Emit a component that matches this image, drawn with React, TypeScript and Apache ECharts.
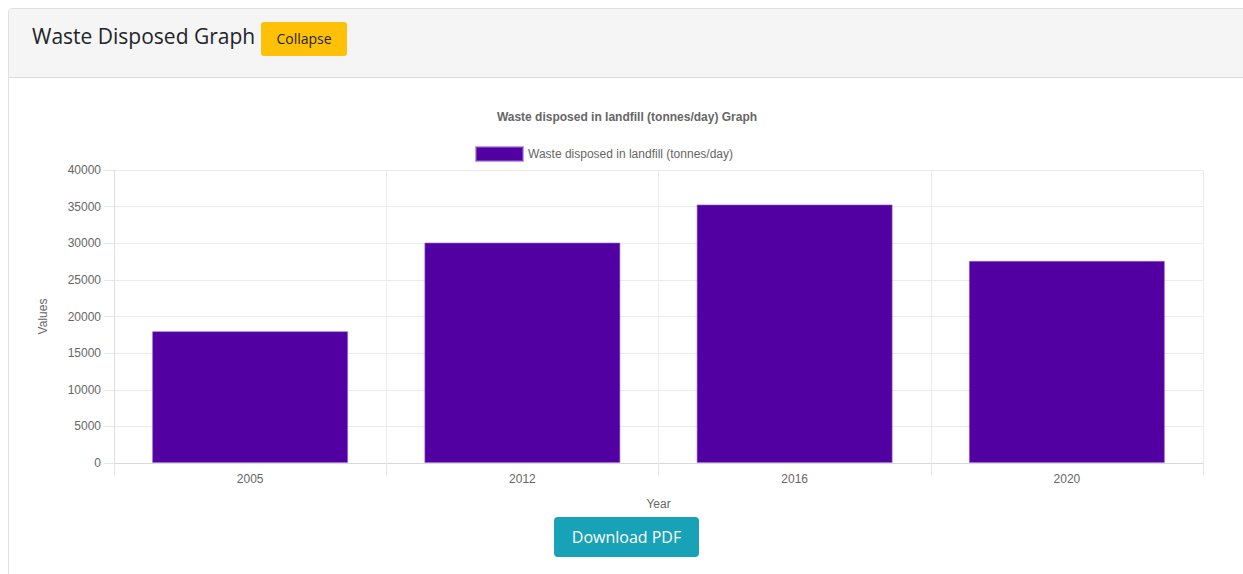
import React, { useEffect, useRef } from "react";
import * as echarts from "echarts";

const years = ["2005", "2012", "2016", "2020"];
const wasteValues = [18000, 30100, 35300, 27600];
const seriesName = "Waste disposed in landfill (tonnes/day)";
const chartTitle = "Waste disposed in landfill (tonnes/day) Graph";
const yMin = 0;
const yMax = 40000;
const yInterval = 5000;

const FONT = "'Liberation Sans', Arial, sans-serif";
const UI_FONT = "'Open Sans', 'Noto Sans', sans-serif";

export default function App() {
  const ref = useRef<HTMLDivElement>(null);

  useEffect(() => {
    if (!ref.current) return;
    const chart = echarts.init(ref.current, undefined, { renderer: "svg" });
    chart.setOption({
      animation: false,
      title: {
        text: chartTitle,
        left: 622,
        top: 106,
        textAlign: "center",
        textStyle: { fontSize: 12, fontWeight: "bold", color: "#666", fontFamily: FONT },
      },
      legend: {
        data: [seriesName],
        left: 470,
        top: 141,
        itemWidth: 47,
        itemHeight: 14,
        itemGap: 10,
        icon: "rect",
        textStyle: { fontSize: 12, color: "#666", fontFamily: FONT },
      },
      grid: { left: 114, right: 40, top: 170, bottom: 111, containLabel: false },
      xAxis: {
        type: "category",
        data: years,
        name: "Year",
        nameLocation: "middle",
        nameGap: 35,
        nameTextStyle: { fontSize: 12, color: "#666", fontFamily: FONT },
        axisLine: { show: true, lineStyle: { color: "#d9d9d9", width: 1 } },
        axisTick: { show: true, length: 12, lineStyle: { color: "#e6e6e6" } },
        axisLabel: { fontSize: 12, color: "#666", fontFamily: FONT, margin: 10 },
        splitLine: { show: true, lineStyle: { color: "#ebebeb", width: 1 } },
      },
      yAxis: {
        type: "value",
        min: yMin,
        max: yMax,
        interval: yInterval,
        name: "Values",
        nameLocation: "middle",
        nameGap: 65,
        nameTextStyle: { fontSize: 12, color: "#666", fontFamily: FONT },
        axisLine: { show: true, lineStyle: { color: "#e0e0e0", width: 1 } },
        axisTick: { show: true, length: 10, lineStyle: { color: "#e6e6e6" } },
        axisLabel: {
          fontSize: 12,
          color: "#666",
          fontFamily: FONT,
          margin: 13,
          formatter: (v: number) => String(v),
        },
        splitLine: { show: true, lineStyle: { color: "#ebebeb", width: 1 } },
      },
      series: [
        {
          name: seriesName,
          type: "bar",
          data: wasteValues,
          barWidth: "72%",
          itemStyle: {
            color: "#5200a2",
            borderColor: "rgba(150,100,210,0.6)",
            borderWidth: 1,
          },
        },
      ],
    });
    return () => chart.dispose();
  }, []);

  return (
    <div
      style={{
        position: "absolute",
        left: 0,
        top: 0,
        width: 1243,
        height: 574,
        overflow: "hidden",
        background: "#fff",
      }}
    >
      <style>{"html,body{overflow:hidden}"}</style>
      <div
        style={{
          position: "absolute",
          left: 8,
          top: 8,
          width: 1250,
          height: 620,
          border: "1px solid #e0e0e0",
          borderRadius: 4,
          boxSizing: "border-box",
          background: "#fff",
        }}
      >
        <div
          style={{
            position: "absolute",
            left: 0,
            top: 0,
            right: 0,
            height: 69,
            background: "#f5f5f5",
            borderBottom: "1px solid #dcdcdc",
            boxSizing: "border-box",
            borderTopLeftRadius: 4,
          }}
        />
      </div>
      <div ref={ref} style={{ position: "absolute", left: 0, top: 0, width: 1243, height: 574 }} />
      <div
        style={{
          position: "absolute",
          left: 32,
          top: 21,
          height: 30,
          lineHeight: "30px",
          fontFamily: UI_FONT,
          fontSize: 21,
          color: "#212529",
          whiteSpace: "nowrap",
        }}
      >
        Waste Disposed Graph
      </div>
      <div
        style={{
          position: "absolute",
          left: 261,
          top: 22,
          width: 86,
          height: 34,
          lineHeight: "34px",
          background: "#ffc107",
          borderRadius: 3,
          fontFamily: UI_FONT,
          fontSize: 14,
          fontWeight: 500,
          color: "#212529",
          textAlign: "center",
        }}
      >
        Collapse
      </div>
      <div
        style={{
          position: "absolute",
          left: 554,
          top: 517,
          width: 145,
          height: 40,
          lineHeight: "40px",
          background: "#17a2b8",
          borderRadius: 4,
          fontFamily: UI_FONT,
          fontSize: 16,
          color: "#fff",
          textAlign: "center",
        }}
      >
        Download PDF
      </div>
    </div>
  );
}
